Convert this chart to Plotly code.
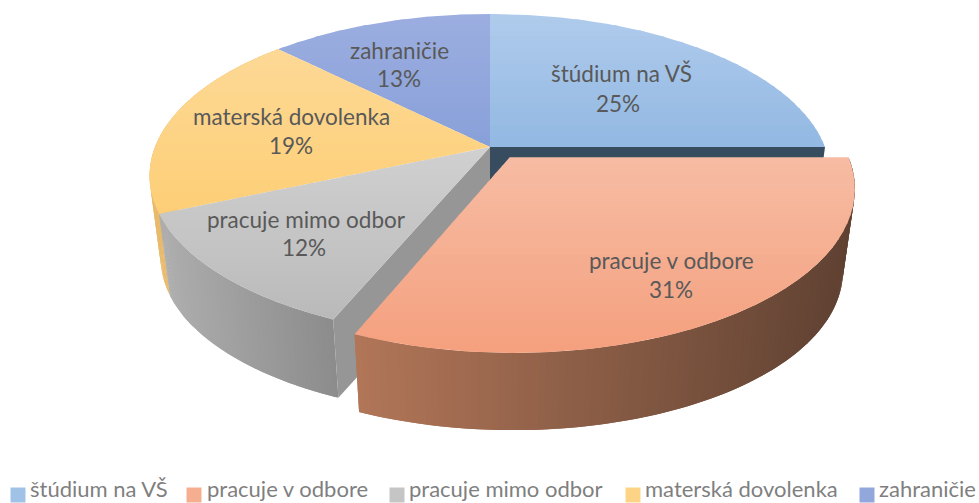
import numpy as np
import plotly.graph_objects as go

categories = ["štúdium na VŠ", "pracuje v odbore", "pracuje mimo odbor", "materská dovolenka", "zahraničie"]
shares = [25.0, 31.4, 12.1, 18.9, 12.6]
explode_x = [0.0, 0.058, 0.0, 0.0, 0.0]
explode_y = [0.0, 0.065, 0.0, 0.0, 0.0]
top_start = [(176, 203, 236), (246, 188, 163), (208, 208, 208), (253, 217, 150), (156, 174, 224)]
top_end = [(146, 184, 226), (245, 160, 126), (186, 186, 186), (253, 206, 118), (136, 160, 217)]
label_xy = [(621, 73, 618, 103), (671, 260, 671, 289), (306, 219, 304, 247), (291, 116, 291, 145), (399, 50, 399, 78)]
legend_swatch_x = [18, 194, 397, 633, 867]
legend_text_x = [28, 205, 407, 643, 877]

W, H = 979, 503
CX, CY, RX, RY, K = 490.0, 147.0, 335.0, 156.7, 0.178
DEPTH, SHRINK = 84.0, 0.967
FONT_SIZE = 22.5
LEGEND_FONT_SIZE = 22


def project(X, Y, bottom=False):
    s = 1 / (1 - K * Y)
    px, py = CX + RX * X * s, CY + RY * Y * s
    if bottom:
        px, py = CX + SHRINK * (px - CX), CY + DEPTH + SHRINK * (py - CY)
    return px, py


def clip_band(pts, y0, y1):
    def clip(poly, inside, cross):
        out = []
        for i in range(len(poly)):
            a, b = poly[i], poly[(i + 1) % len(poly)]
            if inside(a):
                out.append(a)
            if inside(a) != inside(b):
                out.append(cross(a, b))
        return out

    def at(level):
        return lambda a, b: (a[0] + (b[0] - a[0]) * (level - a[1]) / (b[1] - a[1]), level)

    p = clip(pts, lambda q: q[1] >= y0, at(y0))
    return clip(p, lambda q: q[1] <= y1, at(y1)) if p else []


def rgb(c):
    return "rgb(%d,%d,%d)" % tuple(int(round(v)) for v in c)


def mix(a, b, t):
    t = min(max(t, 0), 1)
    return [a[i] + (b[i] - a[i]) * t for i in range(3)]


fig = go.Figure()


def poly(pts, color, width=0.0):
    xs = [p[0] for p in pts] + [pts[0][0]]
    ys = [p[1] for p in pts] + [pts[0][1]]
    fig.add_trace(go.Scatter(x=xs, y=ys, mode="lines", fill="toself", fillcolor=color,
                             line=dict(color=color, width=width), hoverinfo="skip", showlegend=False))


edges = np.cumsum([0] + shares) / sum(shares) * 2 * np.pi


def arc(i, bottom=False):
    th = np.linspace(edges[i], edges[i + 1], 120)
    return [project(explode_x[i] + np.sin(t), explode_y[i] - np.cos(t), bottom) for t in th]


def vertex(i, bottom=False):
    return project(explode_x[i], explode_y[i], bottom)


def wall(i, left_color, right_color, step=1):
    top, bot = arc(i), arc(i, True)
    xs = [p[0] for p in top]
    lo, hi = min(xs), max(xs)
    # Each strip reaches one step past its own end, so the next strip covers the seam.
    for j in range(0, len(top) - 1, step):
        k = min(j + step + 1, len(top) - 1)
        t = ((top[j][0] + top[min(j + step, len(top) - 1)][0]) / 2 - lo) / (hi - lo)
        poly([top[j], top[k], bot[k], bot[j]], rgb(mix(left_color, right_color, t)))


def top_face(i, bands=24):
    pts = [vertex(i)] + arc(i)
    ys = [p[1] for p in pts]
    lo, hi = min(ys), max(ys)
    levels = np.linspace(lo, hi, bands + 1)
    for j in range(bands):
        part = clip_band(pts, levels[j], min(levels[j + 1] + 1.2, hi))
        if len(part) >= 3:
            poly(part, rgb(mix(top_start[i], top_end[i], (j + 0.5) / bands)))


def cut_face(i, end, color):
    e = edges[i + end]
    p = project(explode_x[i] + np.sin(e), explode_y[i] - np.cos(e))
    q = project(explode_x[i] + np.sin(e), explode_y[i] - np.cos(e), True)
    poly([vertex(i), p, q, vertex(i, True)], color)


wall(3, (232, 186, 108), (240, 196, 120), step=2)
wall(2, (174, 174, 174), (140, 140, 140))
cut_face(2, 0, rgb((150, 150, 150)))
cut_face(0, 1, rgb((56, 76, 96)))
for idx in [4, 3, 2, 0]:
    top_face(idx)
wall(1, (178, 118, 88), (95, 65, 50))
top_face(1)

annotations = []
for i, name in enumerate(categories):
    nx, ny, vx, vy = label_xy[i]
    annotations.append(dict(x=nx, y=ny, text=name, showarrow=False, xref="x", yref="y",
                            font=dict(family="Lato", size=FONT_SIZE, color="#595959")))
    annotations.append(dict(x=vx, y=vy, text=f"{round(shares[i])}%", showarrow=False, xref="x", yref="y",
                            font=dict(family="Lato", size=FONT_SIZE, color="#595959")))
    fig.add_trace(go.Scatter(x=[legend_swatch_x[i]], y=[495], mode="markers", showlegend=False,
                             hoverinfo="skip", name=name,
                             marker=dict(symbol="square", size=15,
                                         color=rgb(mix(top_start[i], top_end[i], 0.5)))))
    annotations.append(dict(x=legend_text_x[i], y=488.5, text=name, showarrow=False, xanchor="left", xref="x", yref="y",
                            font=dict(family="Lato", size=LEGEND_FONT_SIZE, color="#7f7f7f")))

fig.update_layout(width=W, height=H, margin=dict(l=0, r=0, t=0, b=0), showlegend=False,
                  paper_bgcolor="white", plot_bgcolor="white", annotations=annotations,
                  xaxis=dict(range=[0, W], visible=False, fixedrange=True),
                  yaxis=dict(range=[H, 0], visible=False, fixedrange=True))
fig.write_html("out.html", config=dict(displayModeBar=False),
               post_script="document.body.style.margin='0';")
